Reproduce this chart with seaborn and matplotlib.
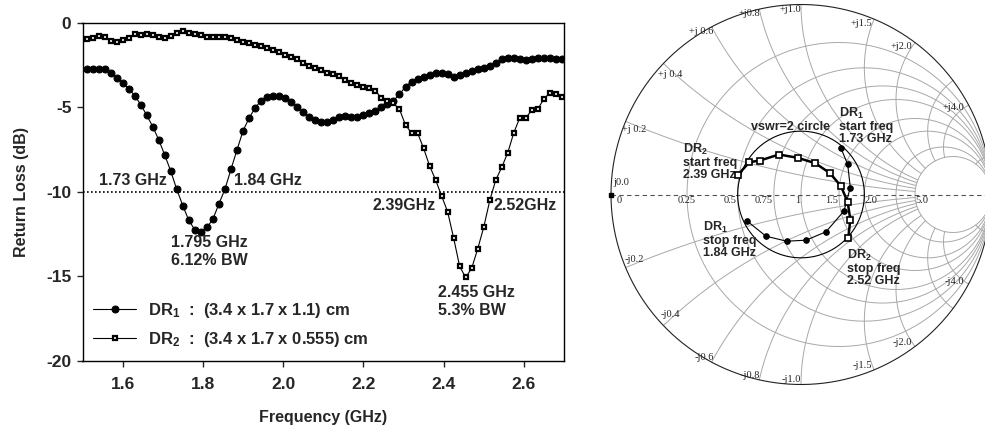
import numpy as np
import matplotlib
matplotlib.use("Agg")
import matplotlib.pyplot as plt
import seaborn as sns

freq = [1.510, 1.525, 1.540, 1.555, 1.570, 1.585, 1.600, 1.615, 1.630, 1.645,
        1.660, 1.675, 1.690, 1.705, 1.720, 1.735, 1.750, 1.765, 1.780, 1.795,
        1.810, 1.825, 1.840, 1.855, 1.870, 1.885, 1.900, 1.915, 1.930, 1.945,
        1.960, 1.975, 1.990, 2.005, 2.020, 2.035, 2.050, 2.065, 2.080, 2.095,
        2.110, 2.125, 2.140, 2.155, 2.170, 2.185, 2.200, 2.215, 2.230, 2.245,
        2.260, 2.275, 2.290, 2.305, 2.320, 2.335, 2.350, 2.365, 2.380, 2.395,
        2.410, 2.425, 2.440, 2.455, 2.470, 2.485, 2.500, 2.515, 2.530, 2.545,
        2.560, 2.575, 2.590, 2.605, 2.620, 2.635, 2.650, 2.665, 2.680, 2.695]

# return loss, dB
dr1_rl = [-2.74, -2.74, -2.74, -2.74, -2.94, -3.25, -3.53, -3.89, -4.30, -4.83,
          -5.46, -6.13, -6.92, -7.82, -8.78, -9.86, -10.82, -11.69, -12.25, -12.35,
          -12.11, -11.62, -10.71, -9.84, -8.67, -7.52, -6.39, -5.64, -5.03, -4.60,
          -4.36, -4.30, -4.30, -4.42, -4.66, -4.95, -5.30, -5.58, -5.74, -5.84,
          -5.84, -5.74, -5.58, -5.50, -5.58, -5.58, -5.44, -5.31, -5.19, -4.99,
          -4.81, -4.60, -4.22, -3.77, -3.47, -3.33, -3.21, -3.08, -2.98, -2.94,
          -3.02, -3.18, -3.08, -2.94, -2.84, -2.74, -2.64, -2.54, -2.38, -2.11,
          -2.05, -2.09, -2.15, -2.19, -2.13, -2.09, -2.05, -2.09, -2.13, -2.15]

dr2_rl = [-0.97, -0.91, -0.77, -0.85, -1.05, -1.10, -1.01, -0.91, -0.65, -0.71,
          -0.65, -0.71, -0.85, -0.91, -0.77, -0.61, -0.47, -0.61, -0.65, -0.71,
          -0.81, -0.81, -0.81, -0.81, -0.87, -1.01, -1.10, -1.20, -1.30, -1.36,
          -1.50, -1.60, -1.70, -1.89, -2.03, -2.15, -2.39, -2.53, -2.68, -2.78,
          -2.96, -3.02, -3.14, -3.37, -3.53, -3.67, -3.77, -3.86, -4.00, -4.46,
          -4.60, -4.75, -5.11, -6.04, -6.51, -6.51, -7.41, -8.46, -9.29, -10.24,
          -11.18, -12.74, -14.42, -15.07, -14.52, -13.37, -12.09, -10.51, -9.29, -8.54,
          -7.67, -6.49, -5.60, -5.60, -5.17, -5.08, -4.50, -4.12, -4.20, -4.36]

dr1_label = "DR$_1$  :  (3.4 x 1.7 x 1.1) cm"
dr2_label = "DR$_2$  :  (3.4 x 1.7 x 0.555) cm"

# reflection coefficient inside the -10 dB band (real, imag)
dr1_gre = [0.2105, 0.2458, 0.2595, 0.2263, 0.1316, 0.0263, -0.0753, -0.1842, -0.2826]
dr1_gim = [0.2437, 0.1579, 0.0368, -0.0868, -0.1963, -0.2405, -0.2458, -0.2195, -0.1405]
dr2_gre = [-0.3332, -0.2721, -0.2158, -0.1158, -0.0174, 0.0753, 0.1526, 0.2105, 0.2458, 0.2595, 0.2489]
dr2_gim = [0.1016, 0.1700, 0.1789, 0.2105, 0.1932, 0.1647, 0.1121, 0.0437, -0.0405, -0.1316, -0.2279]

# smith grid
r_circles = [0.25, 0.5, 0.75, 1.0, 1.5, 2.0, 3.0, 4.0]
r_labels = ["0", "0.25", "0.5", "0.75", "1", "1.5", "2.0", "5.0"]
r_label_at = [0.0, 0.25, 0.5, 0.75, 1.0, 1.5, 2.0, 4.0]
x_arcs = [0.2, 0.4, 0.6, 0.8, 1.0, 1.5, 2.0, 3.0, 4.0, 10.0]
x_labels = [0.2, 0.4, 0.6, 0.8, 1.0, 1.5, 2.0, 4.0]
x_up_text = ["+j 0.2", "+j 0.4", "+j 0.6", "+j0.8", "+j1.0", "+j1.5", "+j2.0", "+j4.0"]
x_dn_text = ["-j0.2", "-j0.4", "-j0.6", "-j0.8", "-j1.0", "-j1.5", "-j2.0", "-j4.0"]
r_max = 4.0

sns.set_style("ticks")
plt.rcParams["font.family"] = ["Liberation Sans", "DejaVu Sans"]
plt.rcParams["font.weight"] = "bold"
plt.rcParams["axes.unicode_minus"] = False
plt.rcParams["mathtext.fontset"] = "custom"
plt.rcParams["mathtext.rm"] = "Liberation Sans:bold"
plt.rcParams["mathtext.bf"] = "Liberation Sans:bold"
plt.rcParams["mathtext.default"] = "bf"

fig = plt.figure(figsize=(9.85, 4.3), dpi=100)

# ---- return loss plot ----
ax = fig.add_axes([82.5 / 985, 1 - 360.7 / 430, 481.5 / 985, 337.7 / 430])
sns.lineplot(x=freq, y=dr1_rl, ax=ax, color="k", lw=0.8, marker="o", ms=5,
             mfc="k", mec="k", label=dr1_label)
sns.lineplot(x=freq, y=dr2_rl, ax=ax, color="k", lw=0.8, marker="s", ms=3.5,
             mfc="white", mec="k", mew=1.6, label=dr2_label)
ax.axhline(-10, color="k", lw=1.2, ls=(0, (1, 1.4)), zorder=1)

ax.set_xlim(1.5, 2.7)
ax.set_ylim(-20, 0)
ax.set_xticks([1.6, 1.8, 2.0, 2.2, 2.4, 2.6])
ax.set_xticklabels([f"{t:.1f}" for t in [1.6, 1.8, 2.0, 2.2, 2.4, 2.6]])
ax.set_yticks([0, -5, -10, -15, -20])
ax.tick_params(axis="x", labelsize=12.5, length=4, width=1, pad=8)
ax.tick_params(axis="y", labelsize=12.5, length=4, width=1, pad=4)
for s in ax.spines.values():
    s.set_linewidth(1)
    s.set_color("k")
ax.set_xlabel("Frequency (GHz)", fontsize=11.5, fontweight="bold", labelpad=13)
ax.set_ylabel("Return Loss (dB)", fontsize=11.5, fontweight="bold", labelpad=12)

txt = dict(fontsize=11.5, fontweight="bold", va="baseline")
ax.text(1.711, -9.59, "1.73 GHz", ha="right", **txt)
ax.text(1.878, -9.59, "1.84 GHz", ha="left", **txt)
ax.text(1.72, -13.28, "1.795 GHz", ha="left", **txt)
ax.text(1.72, -14.33, "6.12% BW", ha="left", **txt)
ax.text(2.381, -11.07, "2.39GHz", ha="right", **txt)
ax.text(2.524, -11.07, "2.52GHz", ha="left", **txt)
ax.text(2.385, -16.2, "2.455 GHz", ha="left", **txt)
ax.text(2.385, -17.29, "5.3% BW", ha="left", **txt)

ax.legend(loc="lower left", bbox_to_anchor=(0.022, 0.035), frameon=False,
          fontsize=12, handlelength=2.6, handletextpad=0.7, labelspacing=0.6,
          borderpad=0, borderaxespad=0)

# ---- smith chart ----
sm = fig.add_axes([600 / 985, 0, 385 / 985, 1])
sm.set_xlim(-201 / 190, 184 / 190)
sm.set_ylim(-235.5 / 190, 194.5 / 190)
sm.axis("off")

grid = "#a8a8a8"
t = np.linspace(0, 2 * np.pi, 500)
for r in r_circles:
    c, rad = r / (1 + r), 1 / (1 + r)
    sm.plot(c + rad * np.cos(t), rad * np.sin(t), color=grid, lw=0.7, zorder=1)
rr = np.concatenate([[0.0], np.geomspace(1e-3, r_max, 400)])
for xv in x_arcs:
    for sgn in (1, -1):
        z = rr + 1j * sgn * xv
        g = (z - 1) / (z + 1)
        sm.plot(g.real, g.imag, color=grid, lw=0.7, zorder=1)
sm.plot(np.cos(t), np.sin(t), color="#222222", lw=0.8, zorder=2)
sm.plot([-1, 1.2], [0, 0], color="#555555", lw=0.8, ls=(0, (4, 3)), zorder=2)
sm.plot([-1], [0], "s", color="k", ms=3.5, zorder=3)
sm.plot(np.cos(t) / 3, np.sin(t) / 3, color="k", lw=0.8, zorder=2)

lab = dict(fontsize=7.5, family="Liberation Serif", fontweight="normal", color="#222222")
for name, rv in zip(r_labels, r_label_at):
    gx = (rv - 1) / (rv + 1)
    if rv == 0:
        sm.text(gx + 0.03, -0.01, name, ha="left", va="top", **lab)
    elif rv == 0.25:
        sm.text(gx, -0.01, name, ha="center", va="top", **lab)
    elif rv < 2:
        sm.text(gx - 0.005, -0.01, name, ha="right", va="top", **lab)
    else:
        sm.text(gx, -0.01, name, ha="left", va="top", **lab)
for xv, up, dn in zip(x_labels, x_up_text, x_dn_text):
    for sgn, name in ((1, up), (-1, dn)):
        z = 1j * sgn * xv
        g = (z - 1) / (z + 1)
        if xv < 0.5:
            p = g * 0.95
            sm.text(p.real, p.imag, name, ha="center",
                    va="top" if sgn > 0 else "bottom", **lab)
        else:
            p = g * 0.975
            sm.text(p.real, p.imag, name, ha="right", va="center", **lab)
sm.text(-0.99, 0.04, "j0.0", ha="left", va="bottom", **lab)

sns.lineplot(x=dr1_gre, y=dr1_gim, ax=sm, sort=False, estimator=None, color="k",
             lw=0.8, marker="o", ms=4, mfc="k", mec="k", zorder=4)
sns.lineplot(x=dr2_gre, y=dr2_gim, ax=sm, sort=False, estimator=None, color="k",
             lw=1.8, marker="s", ms=4.8, mfc="white", mec="k", mew=1.2, zorder=5)

note = dict(fontsize=9, fontweight="bold", ha="left", va="top", linespacing=1.0)
sm.text(-0.262, 0.342, "vswr=2 circle", fontsize=9, fontweight="bold", ha="left", va="baseline")
sm.text(0.20, 0.467, "DR$_1$\nstart freq\n1.73 GHz", **note)
sm.text(-0.623, 0.278, "DR$_2$\nstart freq\n2.39 GHz", **note)
sm.text(-0.517, -0.134, "DR$_1$\nstop freq\n1.84 GHz", **note)
sm.text(0.240, -0.283, "DR$_2$\nstop freq\n2.52 GHz", **note)

fig.savefig("out.png", dpi=100)
